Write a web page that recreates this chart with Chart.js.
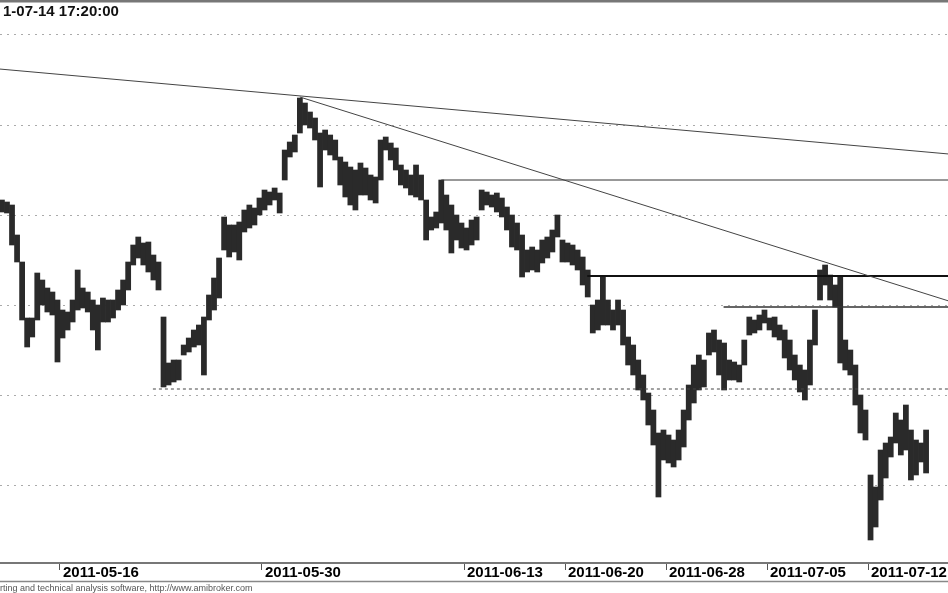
<!DOCTYPE html>
<html><head><meta charset="utf-8">
<script src="https://cdn.jsdelivr.net/npm/chart.js@4.4.0/dist/chart.umd.min.js"></script>
<style>html,body{margin:0;padding:0;background:#fff;}canvas{display:block;}</style>
</head><body>
<canvas id="c" width="948" height="593"></canvas>
<script>
// Trading sessions shown (Warsaw calendar, 2011-06-23 holiday)
const tradingDays = [
 '2011-05-11','2011-05-12','2011-05-13',
 '2011-05-16','2011-05-17','2011-05-18','2011-05-19','2011-05-20',
 '2011-05-23','2011-05-24','2011-05-25','2011-05-26','2011-05-27',
 '2011-05-30','2011-05-31','2011-06-01','2011-06-02','2011-06-03',
 '2011-06-06','2011-06-07','2011-06-08','2011-06-09','2011-06-10',
 '2011-06-13','2011-06-14','2011-06-15','2011-06-16','2011-06-17',
 '2011-06-20','2011-06-21','2011-06-22','2011-06-24','2011-06-27',
 '2011-06-28','2011-06-29','2011-06-30','2011-07-01','2011-07-04',
 '2011-07-05','2011-07-06','2011-07-07','2011-07-08','2011-07-11',
 '2011-07-12','2011-07-13','2011-07-14'
];
const barsPerDay = 4;

// Bar highs / lows, 4 bars per session
const barHigh = [
 2535,2533,2530,2500, 2473,2417,2417,2462, 2455,2447,2443,2435, 2425,2423,2435,2465,
 2447,2443,2435,2430, 2437,2435,2435,2445, 2455,2473,2490,2498, 2492,2493,2480,2473,
 2418,2372,2375,2375, 2390,2397,2405,2410, 2418,2440,2457,2477, 2518,2510,2510,2513,
 2525,2530,2527,2537, 2545,2543,2547,2542, 2585,2593,2600,2637, 2632,2623,2617,2602,
 2605,2600,2595,2578, 2573,2568,2565,2572, 2567,2560,2558,2595, 2598,2592,2587,2570,
 2565,2560,2570,2560, 2535,2518,2523,2555, 2540,2530,2520,2512, 2507,2515,2518,2545,
 2543,2540,2542,2537, 2528,2520,2512,2500, 2485,2488,2485,2495, 2498,2505,2520,2495,
 2492,2490,2485,2478, 2465,2430,2435,2458, 2435,2425,2435,2425, 2398,2390,2375,2360,
 2342,2325,2302,2305, 2300,2295,2305,2325, 2350,2370,2380,2375, 2402,2405,2395,2392,
 2375,2373,2370,2395, 2418,2415,2420,2425, 2417,2418,2410,2405, 2395,2380,2370,2365,
 2395,2425,2465,2470, 2460,2450,2458,2395, 2385,2370,2340,2325, 2260,2248,2285,2292,
 2298,2322,2315,2330, 2305,2295,2292,2305
];
const barLow = [
 2523,2522,2490,2473, 2415,2388,2398,2415, 2430,2423,2420,2373, 2397,2405,2413,2425,
 2427,2423,2405,2385, 2413,2413,2417,2425, 2430,2445,2470,2477, 2470,2463,2455,2445,
 2348,2350,2353,2355, 2380,2383,2388,2390, 2360,2415,2425,2437, 2485,2478,2483,2475,
 2503,2507,2510,2520, 2525,2530,2535,2522, 2555,2578,2583,2602, 2610,2607,2595,2548,
 2585,2580,2575,2550, 2538,2530,2525,2540, 2540,2535,2532,2555, 2585,2575,2565,2550,
 2547,2540,2538,2535, 2495,2505,2507,2512, 2505,2482,2495,2487, 2485,2490,2495,2525,
 2530,2528,2523,2518, 2505,2488,2485,2458, 2463,2465,2463,2472, 2477,2483,2498,2473,
 2473,2470,2465,2450, 2438,2402,2405,2410, 2410,2405,2410,2390, 2370,2360,2345,2335,
 2310,2290,2238,2275, 2272,2268,2275,2288, 2315,2332,2345,2348, 2380,2383,2360,2345,
 2355,2355,2353,2370, 2400,2402,2405,2412, 2405,2398,2395,2377, 2365,2355,2343,2335,
 2350,2390,2435,2450, 2435,2428,2372,2365, 2360,2330,2302,2295, 2195,2208,2235,2257,
 2278,2292,2280,2285, 2255,2260,2273,2262
];

// X-axis labels
const tickDates = ['2011-05-16','2011-05-30','2011-06-13','2011-06-20','2011-06-28','2011-07-05','2011-07-12'];

// Drawn studies: [session position, price]
const trendLineA = [[0, 2666], [47, 2581]];
const trendLineB = [[14.875, 2638], [47, 2434]];
const levelH1 = [[21.875, 2555], [47, 2555]];
const levelH2 = [[29.1, 2459], [47, 2459]];
const levelH3 = [[35.85, 2428], [47, 2428]];
const levelDashed = [[7.6, 2346], [47, 2346]];

const titleText = '1-07-14 17:20:00';
const footerText = 'rting and technical analysis software, http://www.amibroker.com';

const FONT = "'Liberation Sans', Arial, sans-serif";
const tickIdx = tickDates.map(d => tradingDays.indexOf(d));
const bars = barHigh.map((h, i) => ({
  x: Math.floor(i / barsPerDay) + ((i % barsPerDay) + 0.5) / barsPerDay,
  y: [barLow[i], h]
}));
const pts = a => a.map(p => ({x: p[0], y: p[1]}));
const lineDs = (arr, color, width, dash) => ({
  type: 'line', data: pts(arr), borderColor: color, borderWidth: width,
  borderDash: dash || [], pointRadius: 0, tension: 0, fill: false, order: 0
});

const frame = {
  id: 'frame',
  afterDraw(chart) {
    const ctx = chart.ctx;
    ctx.save();
    ctx.fillStyle = '#777';
    ctx.fillRect(0, 0, chart.width, 2.5);
    ctx.strokeStyle = '#888';
    ctx.lineWidth = 1.5;
    ctx.beginPath();
    ctx.moveTo(0, 581.5); ctx.lineTo(chart.width, 581.5);
    ctx.stroke();
    ctx.fillStyle = '#111';
    ctx.font = 'bold 15px ' + FONT;
    ctx.textBaseline = 'alphabetic';
    ctx.fillText(titleText, 3, 16);
    ctx.restore();
  }
};

new Chart(document.getElementById('c'), {
  type: 'bar',
  data: {
    datasets: [
      {type: 'bar', data: bars, backgroundColor: '#2a2a2a', borderWidth: 0, barThickness: 5.1, order: 1},
      lineDs(trendLineA, '#444', 1),
      lineDs(trendLineB, '#444', 1),
      lineDs(levelH1, '#333', 1),
      lineDs(levelH2, '#111', 2),
      lineDs(levelH3, '#333', 1.3),
      lineDs(levelDashed, '#444', 1, [3, 3])
    ]
  },
  options: {
    responsive: false,
    animation: false,
    layout: {padding: 0},
    plugins: {
      legend: {display: false},
      tooltip: {enabled: false},
      title: {
        display: true, position: 'bottom', align: 'start', text: footerText,
        color: '#555', font: {family: FONT, size: 9, lineHeight: 1.1, weight: 'normal'},
        padding: {top: 0, bottom: 0}
      }
    },
    scales: {
      x: {
        type: 'linear', min: 0.03, max: 46.96, offset: false,
        afterBuildTicks(s) { s.ticks = tickIdx.map(v => ({value: v})); },
        afterFit(s) { s.height = 20.1; },
        ticks: {
          autoSkip: false, maxRotation: 0, minRotation: 0, align: 'start', labelOffset: 3,
          padding: -6, color: '#000', font: {family: FONT, size: 15, weight: 'bold', lineHeight: 1.2},
          callback(v) { const k = tickIdx.indexOf(v); return k >= 0 ? tickDates[k] : ''; }
        },
        grid: {offset: false, drawOnChartArea: false, drawTicks: true, tickLength: 7, tickColor: '#555', tickWidth: 1},
        border: {display: true, color: '#777', width: 2}
      },
      y: {
        type: 'linear', min: 2172, max: 2735,
        afterFit(s) { s.width = 0; },
        ticks: {display: false, stepSize: 90, includeBounds: false},
        grid: {color: '#aaa', lineWidth: 1, drawTicks: false},
        border: {display: false, dash: [2, 5]}
      }
    }
  },
  plugins: [frame]
});
</script>
</body></html>
